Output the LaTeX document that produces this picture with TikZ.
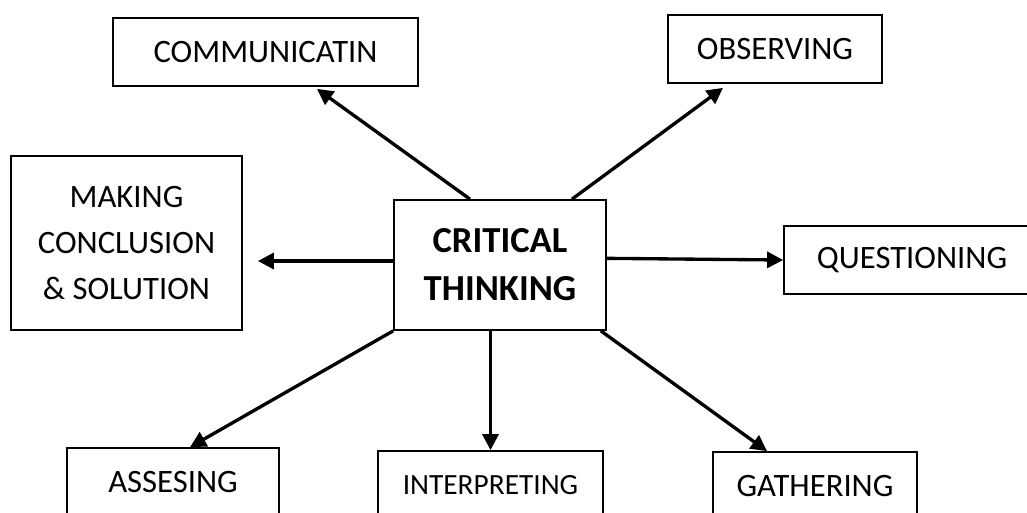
\documentclass[tikz,border=0pt]{standalone}
\usepackage{fontspec}
\setmainfont{Carlito}
\usepackage{tikz}
\usetikzlibrary{arrows.meta}
\tikzset{
  boxnode/.style={draw, line width=1.3pt, rectangle, minimum height=51pt, align=center, inner sep=0pt, font=\fontsize{24.5}{34.5}\selectfont},
  corenode/.style={draw, line width=1.3pt, rectangle, minimum width=159pt, minimum height=97.5pt, align=center, inner sep=0pt, font=\fontsize{27.5}{36}\selectfont\bfseries},
  arrow/.style={-{Triangle[length=12pt, width=12pt]}, line width=2.5pt}
}

\begin{document}
\begin{tikzpicture}[x=0.75pt, y=-0.75pt]
\useasboundingbox (0,0) rectangle (1027,512);

% Nodes
\node[corenode] (CT) at (500,265) {CRITICAL\\THINKING};
\node[boxnode, minimum width=228.75pt] (COMM) at (265.5,52) {COMMUNICATIN};
\node[boxnode, minimum width=160.5pt] (OBS) at (775,49) {OBSERVING};
\node[boxnode, minimum width=173.25pt, minimum height=130.5pt] (MAKE) at (126.5,243) {MAKING\\CONCLUSION\\\& SOLUTION};
\node[boxnode, minimum width=192pt] (QUEST) at (912,260) {QUESTIONING};
\node[boxnode, minimum width=159pt] (ASSESS) at (173,482) {ASSESING};
\node[boxnode, minimum width=168.75pt, font=\fontsize{22}{30}\selectfont] (INTERP) at (490.5,485) {INTERPRETING};
\node[boxnode, minimum width=153pt] (GATHER) at (815,486) {GATHERING};

% Edges
\draw[arrow] ([xshift=-22.5pt]CT.north) -- ([xshift=38.6pt, yshift=-1.5pt]COMM.south);
\draw[arrow] ([xshift=54pt]CT.north) -- ([xshift=-39pt, yshift=-3pt]OBS.south);
\draw[arrow] ([yshift=3pt]CT.west) -- ([xshift=11.25pt, yshift=-13.5pt]MAKE.east);
\draw[arrow] ([yshift=5pt]CT.east) -- (QUEST.west);
\draw[arrow] (CT.south west) -- ([xshift=12.75pt]ASSESS.north);
\draw[arrow] (INTERP.north |- CT.south) -- (INTERP.north);
\draw[arrow] ([xshift=-4.5pt]CT.south east) -- ([xshift=-36pt]GATHER.north);

\end{tikzpicture}
\end{document}
